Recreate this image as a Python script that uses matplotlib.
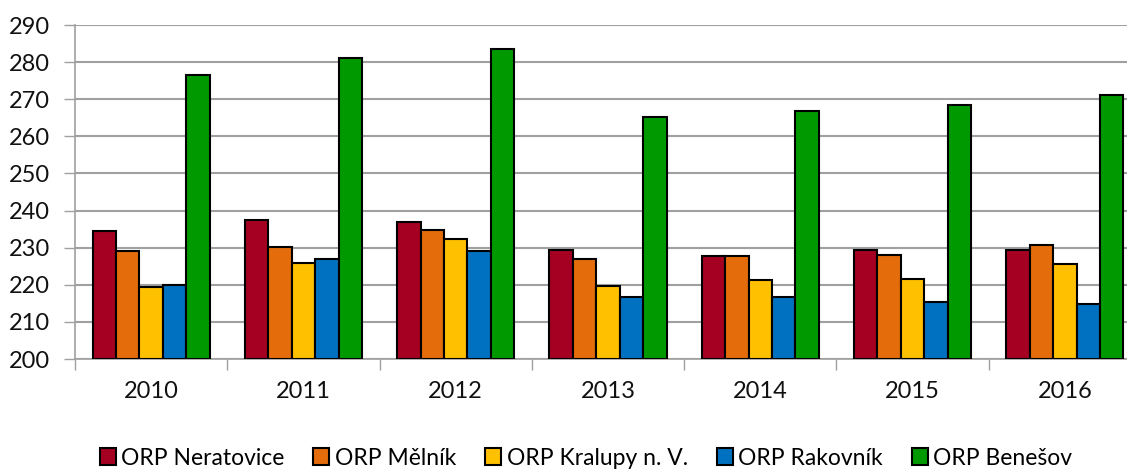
import matplotlib
matplotlib.use("Agg")
import matplotlib.pyplot as plt
import numpy as np

years = ["2010", "2011", "2012", "2013", "2014", "2015", "2016"]
series_names = ["ORP Neratovice", "ORP Mělník", "ORP Kralupy n. V.", "ORP Rakovník", "ORP Benešov"]
neratovice = [234.6, 237.5, 237.0, 229.4, 227.8, 229.5, 229.4]
melnik = [229.2, 230.1, 234.8, 227.0, 227.7, 228.0, 230.6]
kralupy = [219.5, 225.9, 232.3, 219.7, 221.2, 221.6, 225.5]
rakovnik = [219.9, 226.9, 229.2, 216.8, 216.8, 215.4, 214.9]
benesov = [276.6, 281.0, 283.6, 265.2, 266.9, 268.4, 271.1]
colors = ["#A50021", "#E46C0A", "#FFC000", "#0070C0", "#009900"]

plt.rcParams['font.family'] = ['Lato', 'DejaVu Sans']

fig = plt.figure(figsize=(11.27, 4.69), dpi=100)
ax = fig.add_axes([75/1127, 1-359/469, (1141-75)/1127, (359-25)/469])

data = [neratovice, melnik, kralupy, rakovnik, benesov]
x = np.arange(len(years))
bw = 0.154
for i, (vals, c, name) in enumerate(zip(data, colors, series_names)):
    offs = (i - 2) * bw
    ax.bar(x + offs, np.array(vals) - 200, bottom=200, width=bw, color=c,
           edgecolor='black', linewidth=1.5, label=name, zorder=3)

ax.set_xlim(-0.5, len(years) - 0.5)
ax.set_ylim(200, 290)
ax.set_yticks(np.arange(200, 291, 10))
ax.yaxis.grid(True, color='#A0A0A0', linewidth=1.5, zorder=0)
ax.set_axisbelow(True)
ax.set_xticks(x)
ax.set_xticklabels(years)
ax.set_xticks(np.arange(-0.5, len(years), 1), minor=True)
ax.tick_params(axis='x', which='major', length=0, pad=16, labelsize=17, labelcolor='#111111')
ax.tick_params(axis='x', which='minor', length=8, width=1, color='#A0A0A0')
ax.tick_params(axis='y', length=8, width=1, color='#A0A0A0', labelsize=17, pad=10, labelcolor='#111111')
for s in ['top', 'right']:
    ax.spines[s].set_visible(False)
for s in ['left', 'bottom']:
    ax.spines[s].set_color('#A0A0A0')
    ax.spines[s].set_linewidth(1.2)

fig.legend(loc='center', bbox_to_anchor=(586/1127, 1-458/469), ncol=5, frameon=False,
           fontsize=16.5, handlelength=0.7, handleheight=0.7, handletextpad=0.25,
           columnspacing=1.25, borderpad=0)

fig.savefig("out.png", dpi=100)
